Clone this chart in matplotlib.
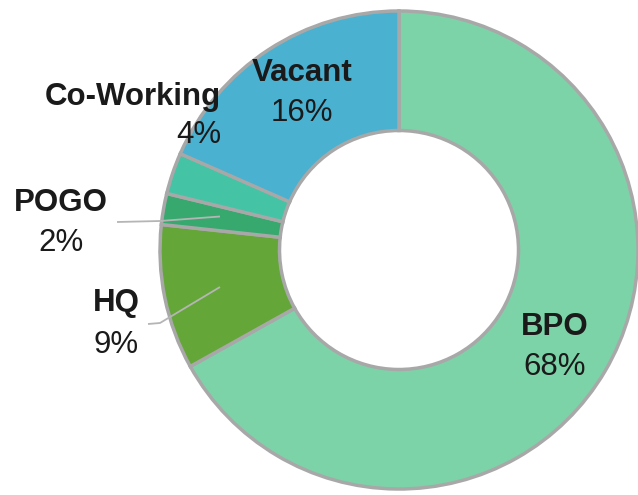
import matplotlib
matplotlib.use("Agg")
import matplotlib.pyplot as plt

# slice shares and the printed labels
categories = ["BPO", "HQ", "POGO", "Co-Working", "Vacant"]
shares = [66.9, 9.8, 2.1, 2.8, 18.4]
pct_labels = ["68%", "9%", "2%", "4%", "16%"]
colors = ["#7dd3a8", "#64a638", "#37a86e", "#45c3a5", "#4ab1d0"]

plt.rcParams["font.family"] = ["Liberation Sans", "DejaVu Sans"]

W, H = 638, 495
cx, cy, R = 399, 250, 239

fig = plt.figure(figsize=(W / 100, H / 100), dpi=100)
ax = fig.add_axes([0, 0, 1, 1])
ax.axis("off")

ax.pie(shares, colors=colors, startangle=90, counterclock=False, radius=1,
       wedgeprops=dict(width=0.5, edgecolor="#a8a8a8", linewidth=2.5))
ax.set_xlim(-cx / R, (W - cx) / R)
ax.set_ylim(-(H - cy) / R, cy / R)
ax.set_aspect("auto")


def p(px, py):
    return (px - cx) / R, (cy - py) / R


# label placement in pixels: (x, y of name, y of pct, ha)
label_pos = {
    "BPO": (555, 327, 367, "center"),
    "HQ": (116, 303, 345, "center"),
    "POGO": (61, 203, 243, "center"),
    "Co-Working": (221, 97, 135, "right"),
    "Vacant": (302, 73, 113, "center"),
}
txt_color = "#1a1a1a"
for name, pct in zip(categories, pct_labels):
    x, y1, y2, ha = label_pos[name]
    ax.text(*p(x, y1), name, ha=ha, va="center", fontsize=22.5,
            fontweight="bold", color=txt_color)
    ax.text(*p(x, y2), pct, ha=ha, va="center", fontsize=22.5,
            color=txt_color)

# leader lines for the small slices
line_kw = dict(color="#b5b5b5", linewidth=1.3, solid_capstyle="butt")
pts = [p(117, 222), p(160, 221), p(220, 216.5)]
ax.plot([q[0] for q in pts], [q[1] for q in pts], **line_kw)
pts = [p(148, 324), p(160, 323), p(220, 287)]
ax.plot([q[0] for q in pts], [q[1] for q in pts], **line_kw)

fig.savefig("out.png", dpi=100)
